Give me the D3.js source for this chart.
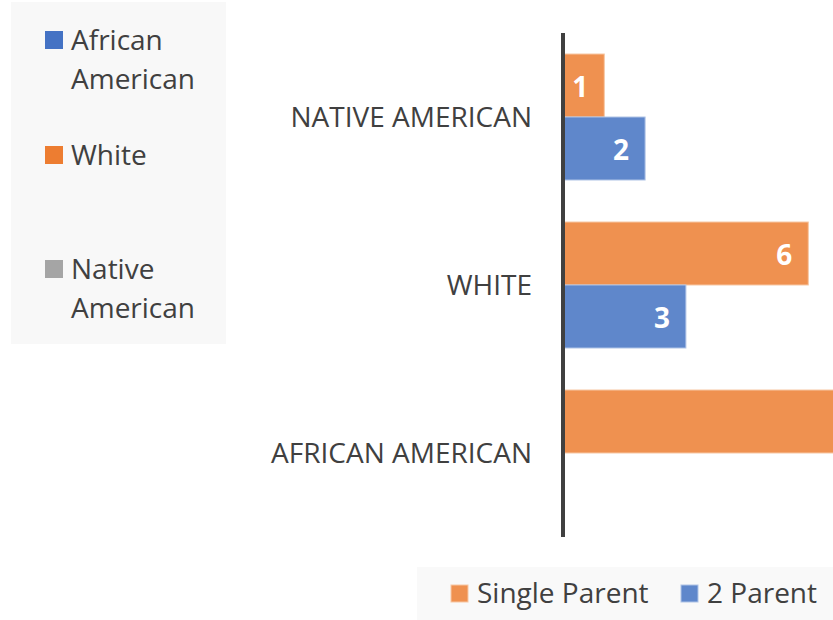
<!DOCTYPE html>
<html>
<head>
<meta charset="utf-8">
<script src="https://cdn.jsdelivr.net/npm/d3@7"></script>
<style>
  body { margin: 0; background: #fff; }
  svg { display: block; font-family: "Open Sans", sans-serif; }
</style>
</head>
<body>
<div id="chart"></div>
<script>
// chart data
const categories = ["NATIVE AMERICAN", "WHITE", "AFRICAN AMERICAN"];
const seriesNames = ["Single Parent", "2 Parent"];
const singleParent = [1, 6, 8];
const twoParent = [2, 3, 0];
const sideLegend = [["African", "American"], ["White"], ["Native", "American"]];

const width = 833;
const height = 620;
const textColor = "#404040";
const barColor = d3.scaleOrdinal().domain(seriesNames).range(["#EF9150", "#5F87CB"]);
const barStroke = d3.scaleOrdinal().domain(seriesNames).range(["#F7C7A4", "#AFC3E6"]);
const sideColor = ["#4472C4", "#ED7D31", "#A5A5A5"];

const rows = categories.map((c, i) => ({
  name: c,
  values: [
    { key: seriesNames[0], value: singleParent[i] },
    { key: seriesNames[1], value: twoParent[i] }
  ]
}));

const svg = d3.select("#chart").append("svg")
  .attr("width", width)
  .attr("height", height);

const x = d3.scaleLinear().domain([0, 8]).range([563.5, 563.5 + 8 * 40.8]);
const y = d3.scaleBand().domain(categories).range([33, 537])
  .paddingInner(0.25).paddingOuter(0.125);
const ySub = d3.scaleBand().domain(seriesNames).range([0, y.bandwidth()]);

// left legend box
const side = svg.append("g");
side.append("rect")
  .attr("x", 11).attr("y", 2).attr("width", 215).attr("height", 342)
  .attr("fill", "#F8F8F8");

const sideTop = [31, 146, 260];
sideLegend.forEach((lines, i) => {
  side.append("rect")
    .attr("x", 45).attr("y", sideTop[i]).attr("width", 18).attr("height", 18)
    .attr("fill", sideColor[i]);
  const t = side.append("text")
    .attr("x", 71).attr("y", sideTop[i] + 19)
    .attr("font-size", 28).attr("fill", textColor);
  lines.forEach((ln, j) => {
    t.append("tspan").attr("x", 71).attr("dy", j === 0 ? 0 : 39).text(ln);
  });
});

// bars
const groups = svg.append("g")
  .selectAll("g")
  .data(rows)
  .join("g")
  .attr("transform", d => `translate(0,${y(d.name)})`);

groups.selectAll("rect")
  .data(d => d.values.filter(v => v.value > 0))
  .join("rect")
  .attr("x", x(0))
  .attr("y", d => ySub(d.key))
  .attr("width", d => x(d.value) - x(0))
  .attr("height", ySub.bandwidth())
  .attr("fill", d => barColor(d.key))
  .attr("stroke", d => barStroke(d.key))
  .attr("stroke-width", 1);

// value labels; the one past the right edge is not in view
groups.selectAll("text.val")
  .data(d => d.values.filter(v => x(v.value) - 16 <= width))
  .join("text")
  .attr("class", "val")
  .attr("x", d => d.value > 0 ? x(d.value) - 16 : x(0) + 31)
  .attr("y", d => ySub(d.key) + ySub.bandwidth() / 2 + 11)
  .attr("text-anchor", "end")
  .attr("font-size", 28)
  .attr("font-weight", "bold")
  .attr("fill", "#fff")
  .text(d => d.value);

// category labels
svg.append("g")
  .selectAll("text")
  .data(categories)
  .join("text")
  .attr("x", 532)
  .attr("y", d => y(d) + y.bandwidth() / 2 + 10)
  .attr("text-anchor", "end")
  .attr("font-size", 28)
  .attr("fill", textColor)
  .text(d => d);

// vertical axis line
svg.append("line")
  .attr("x1", 563).attr("x2", 563)
  .attr("y1", 33).attr("y2", 537)
  .attr("stroke", textColor)
  .attr("stroke-width", 4);

// bottom legend
const legend = svg.append("g");
legend.append("rect")
  .attr("x", 417).attr("y", 567).attr("width", 416).attr("height", 53)
  .attr("fill", "#F9F9F9");
const legX = [451, 681];
seriesNames.forEach((s, i) => {
  legend.append("rect")
    .attr("x", legX[i]).attr("y", 585).attr("width", 17).attr("height", 17)
    .attr("fill", barColor(s))
    .attr("stroke", barStroke(s));
  legend.append("text")
    .attr("x", legX[i] + 26).attr("y", 603)
    .attr("font-size", 28).attr("fill", textColor)
    .text(s);
});
</script>
</body>
</html>
